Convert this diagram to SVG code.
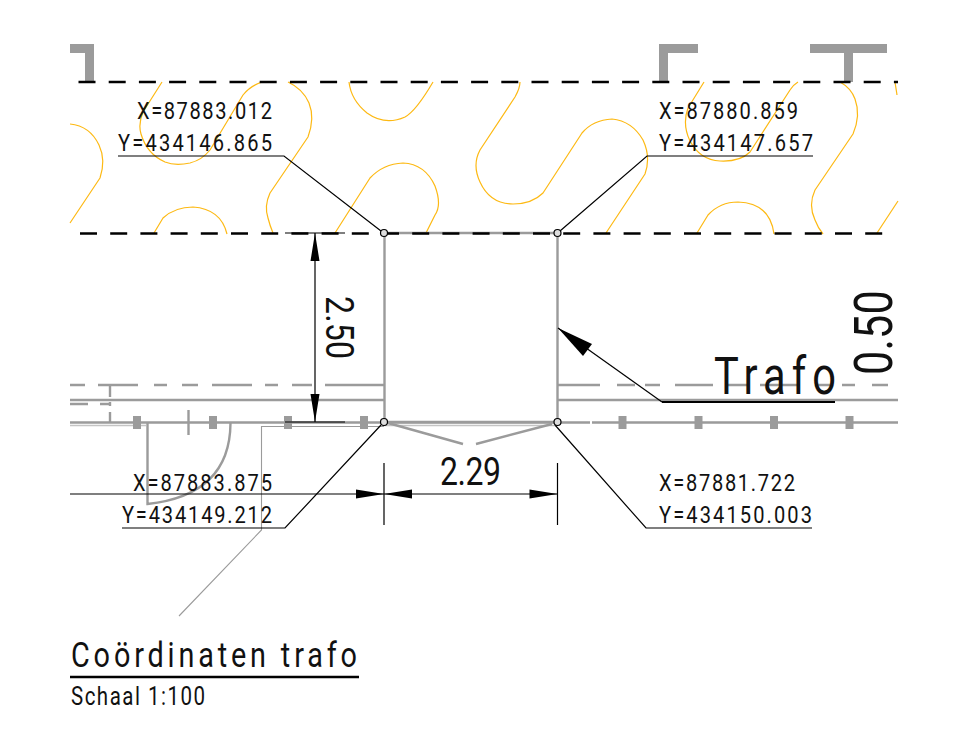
<svg xmlns="http://www.w3.org/2000/svg" width="953" height="732" viewBox="0 0 953 732">
<style>
text{font-family:"Roboto","Liberation Sans",sans-serif;font-weight:400;fill:#111}
.c{font-size:24.5px}
.o{fill:none;stroke:#fdb913;stroke-width:1.2;stroke-linejoin:round}
.g{fill:none;stroke:#9b9b9b;stroke-width:2.4}
.f{fill:#9b9b9b}
.k{fill:none;stroke:#000;stroke-width:1.2}
.d{fill:none;stroke:#000;stroke-width:2.6;stroke-dasharray:17 13.2}
.a{fill:#000}
</style>
<rect width="953" height="732" fill="#fff"/>
<g id="hatch">
<path class="o" d="M162 82L143 112Q138 124 141 134Q147 154 165 162Q175 166 190 163Q202 160 210 150L243 95Q250 86 262 82"/>
<path class="o" d="M288 82Q303 89 309 103Q315 118 308 137L270 193Q264 206 268 218Q270 226 273 233"/>
<path class="o" d="M349 82Q351 100 367 113Q385 126 405 117Q416 111 433 82"/>
<path class="o" d="M70 124Q90 126 99 145Q106 160 100 178L70 223"/>
<path class="o" d="M154 233L163 218Q175 207 193 207Q221 209 227 234"/>
<path class="o" d="M335 233L370 178Q383 164 403 163Q425 164 435 186Q442 205 435 215L426 233"/>
<path class="o" d="M520 82Q520 88 515 97L480 150Q472 165 480 182Q490 204 513 204Q532 204 543 193L582 133Q593 120 612 119Q632 121 643 140Q651 157 645 174L606 233"/>
<path class="o" d="M704 82L688 108Q682 124 690 141Q700 160 720 161Q740 162 750 152L790 90Q793 85 798 82"/>
<path class="o" d="M840 82Q851 88 855 99Q861 115 853 134L815 190Q808 205 815 220Q818 228 823 234"/>
<path class="o" d="M697 233L708 215Q720 202 738 202Q770 203 774 234"/>
<path class="o" d="M877 233L898 201"/>
<path class="o" d="M895 82L897 95"/>
</g>
<g id="walls">
<path class="f" d="M70 44H94V82H85V53H70Z"/>
<path class="f" d="M659 44H698V53H668V82H659Z"/>
<path class="f" d="M810 44H887V53H853V82H844V53H810Z"/>
<path class="g" d="M70 385H85M98 385H138M154 385H167M182 385H198M212 385H252M265 385H278M292 385H312M325 385H384M557 385H600M617 385H635M645 385H660M675 385H713M727 385H747M760 385H800M815 385H830M842 385H855M872 385H888"/>
<path class="g" d="M70 400H384M557 400H898"/>
<path class="g" stroke-width="1.500" d="M70 404H88M100 404H110M110 385V397M110 402V406M110 412V422"/>
<path class="g" d="M70 422.500H590M592 422.500H898"/>
<path stroke="#c4c4c4" stroke-width="1.500" fill="none" d="M70 425.500H146M384 425.500H557"/>
<path class="f" d="M133 416h8v13h-8zM209 416h8v13h-8zM284 416h8v13h-8zM360 416h8v13h-8zM618.500 416h8v13h-8zM694.500 416h8v13h-8zM770 416h8v13h-8zM845.500 416h8v13h-8z"/>
<path class="g" stroke-width="1.500" d="M188.500 410V435"/>
<path class="g" d="M147.500 423V504Q230 495 230.500 423"/>
<path fill="none" stroke="#9b9b9b" stroke-width="1.100" d="M384 426.500H261.500V530L179 616"/>
<path class="g" stroke-width="2.800" d="M384.500 422V233H557.500V422"/>
<path class="g" stroke-width="3" d="M384 422H557"/>
<path class="g" d="M388 423L463 444M476 444L552 424"/>
</g>
<g id="boundary">
<path class="d" d="M78.500 82H898"/>
<path class="d" d="M80 233.500H884"/>
</g>
<g id="connectors">
<path class="k" d="M118 156H284L381 231M813 156H647L560 231M122 528H285L381 425M812 528H646L555 425"/>
<path class="k" d="M285 233H345M285 422H345M315 233V422"/>
<path class="a" d="M315 233L319.500 261H310.500ZM315 422L319.500 394H310.500Z"/>
<path class="k" d="M70 494H557.500M384 463V525M557.500 463V525"/>
<path class="a" d="M384 494L356 489.500V498.500ZM384 494L412 489.500V498.500ZM557.500 494L529.500 489.500V498.500Z"/>
<path class="k" stroke-width="1.600" d="M558 328L662 402"/>
<path d="M662 402H835" fill="none" stroke="#000" stroke-width="2"/>
<path class="a" d="M558 328L592 344L583 356Z"/>
</g>
<g id="points" fill="none" stroke="#000" stroke-width="1.200">
<circle cx="384" cy="233" r="3.500" fill="#ddd"/>
<circle cx="557.500" cy="233" r="3.500" fill="#ddd"/>
<circle cx="384" cy="422" r="3.500" fill="#ddd"/>
<circle cx="557.500" cy="422" r="3.500" fill="#ddd"/>
</g>
<g id="labels">
<text class="c" transform="translate(137 119) scale(.82 1)" textLength="164.600">X=87883.012</text>
<text class="c" transform="translate(118 151) scale(.82 1)" textLength="187.800">Y=434146.865</text>
<text class="c" transform="translate(659 119) scale(.82 1)" textLength="169.500">X=87880.859</text>
<text class="c" transform="translate(659 151) scale(.82 1)" textLength="187.800">Y=434147.657</text>
<text class="c" transform="translate(133 491) scale(.82 1)" textLength="169.500">X=87883.875</text>
<text class="c" transform="translate(122 523) scale(.82 1)" textLength="182.900">Y=434149.212</text>
<text class="c" transform="translate(659 491) scale(.82 1)" textLength="165.900">X=87881.722</text>
<text class="c" transform="translate(659 523) scale(.82 1)" textLength="186.600">Y=434150.003</text>
<text transform="translate(440 485) scale(.82 1)" font-size="39" textLength="74.400">2.29</text>
<text transform="translate(326 296) rotate(90) scale(.82 1)" font-size="39" textLength="76.800">2.50</text>
<text transform="translate(892 375) rotate(-90) scale(.8 1)" font-size="54" textLength="106">0.50</text>
<text transform="translate(714 394) scale(.8 1)" font-size="52" textLength="152.500">Trafo</text>
<text transform="translate(71 667) scale(.8 1)" font-size="36" textLength="357.500">Coördinaten trafo</text>
<path d="M70 677H359" fill="none" stroke="#000" stroke-width="2.500"/>
<text transform="translate(71 705) scale(.82 1)" font-size="25" textLength="163.400">Schaal 1:100</text>
</g>
</svg>
